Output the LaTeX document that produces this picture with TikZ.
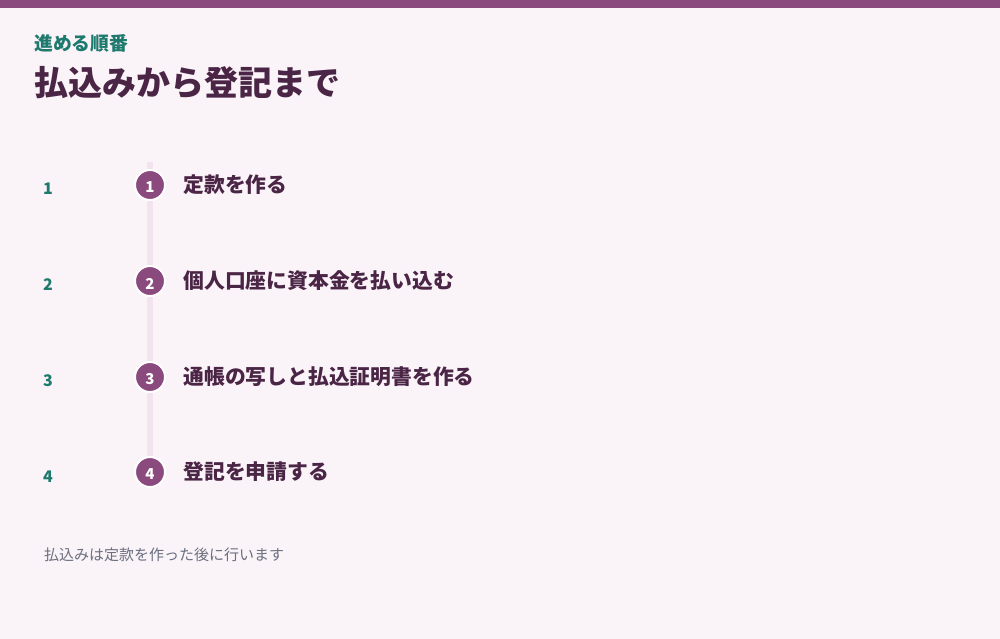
\documentclass[tikz,border=0pt]{standalone}
\usepackage{fontspec}
\setmainfont{Noto Sans CJK JP}
\usetikzlibrary{positioning}
\definecolor{bgpink}{HTML}{FAF3F8}
\definecolor{barpurple}{HTML}{8B4A7E}
\definecolor{darkplum}{HTML}{4A2545}
\definecolor{tealgreen}{HTML}{1F7A6E}
\definecolor{railpink}{HTML}{F3E3EF}
\definecolor{notegray}{HTML}{6B6F80}
\tikzset{
x=1pt, y=-1pt, % one pixel of the reference is one point
stepdot/.style={circle, fill=barpurple, draw=white, line width=2pt, minimum size=30pt, inner sep=0pt, text=white, font=\fontsize{15}{15}\selectfont\bfseries}, % numbered circle on the rail
steplabel/.style={anchor=west, text=darkplum, font=\fontsize{20.8}{20.8}\selectfont\bfseries}, % text of each step
stepnum/.style={text=tealgreen, font=\fontsize{16}{16}\selectfont\bfseries}, % number on the left
}
\begin{document}
\begin{tikzpicture}
\useasboundingbox (0,0) rectangle (1000,639);
\fill[bgpink] (0,0) rectangle (1000,639);
\fill[barpurple] (0,0) rectangle (1000,8);

\node[anchor=west, text=tealgreen, font=\fontsize{18.8}{18.8}\selectfont\bfseries, inner sep=0pt] (kicker) at (34,43) {進める順番};
\node[anchor=west, text=darkplum, font=\fontsize{34}{34}\selectfont\bfseries, inner sep=0pt] (title) at (34,83) {払込みから登記まで};

\coordinate (railtop) at (150,162);
\coordinate (railbot) at (150,462);
\draw[railpink, line width=6pt] (railtop) -- (railbot);

\node[stepdot] (s1) at (150,185) {};
\node[stepdot] (s2) at (150,281) {};
\node[stepdot] (s3) at (150,377) {};
\node[stepdot] (s4) at (150,472) {};
\foreach \i in {1,...,4}
  \node[text=white, font=\fontsize{15}{15}\selectfont\bfseries] at ([yshift=-2.5pt]s\i.center) {\i};

\node[steplabel, right=14pt of s1] (l1) {定款を作る};
\node[steplabel, right=14pt of s2] (l2) {個人口座に資本金を払い込む};
\node[steplabel, right=14pt of s3] (l3) {通帳の写しと払込証明書を作る};
\node[steplabel, right=14pt of s4] (l4) {登記を申請する};

\node[stepnum] (n1) at (48,189) {1};
\node[stepnum] (n2) at (48,285) {2};
\node[stepnum] (n3) at (48,381) {3};
\node[stepnum] (n4) at (48,477) {4};

\node[anchor=west, text=notegray, font=\fontsize{15}{15}\selectfont, inner sep=0pt] (note) at (44,555) {払込みは定款を作った後に行います};
\end{tikzpicture}
\end{document}
